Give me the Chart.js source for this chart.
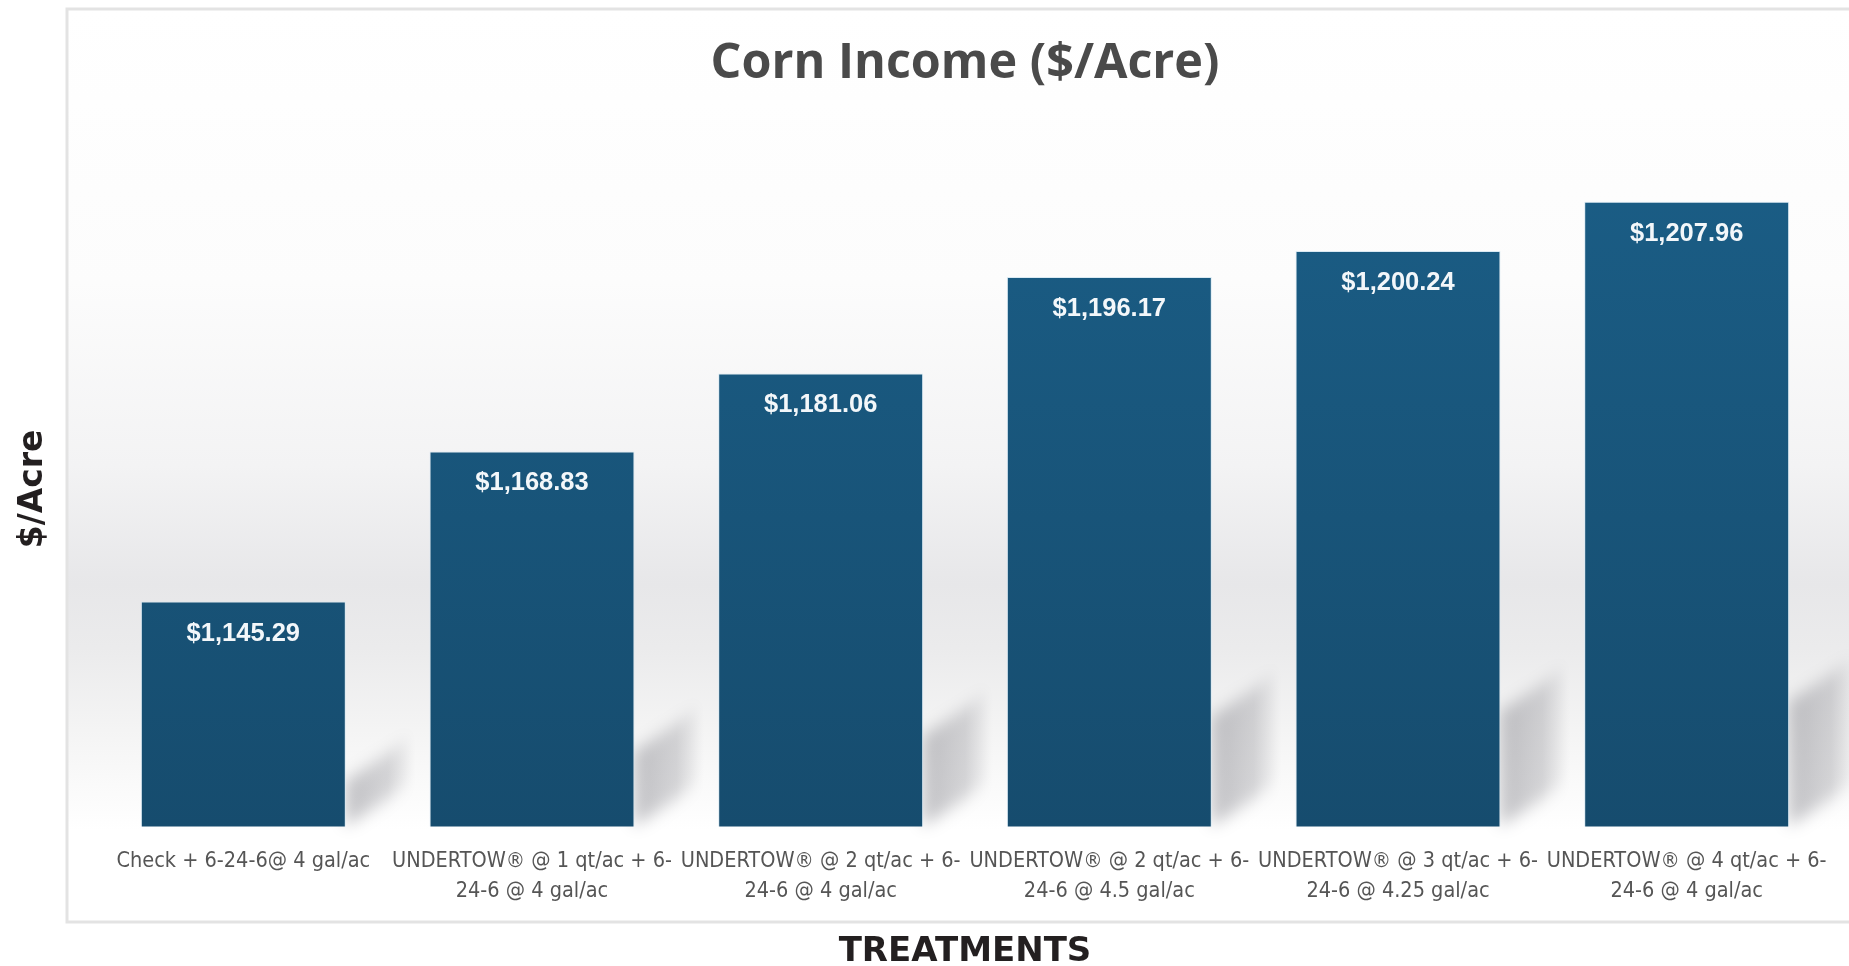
<!DOCTYPE html>
<html>
<head>
<meta charset="utf-8">
<script src="https://cdn.jsdelivr.net/npm/chart.js@4.4.1/dist/chart.umd.min.js"></script>
<style>
  html, body { margin: 0; padding: 0; background: #fff; }
  #wrap { position: relative; width: 1849px; height: 966px; }
</style>
</head>
<body>
<div id="wrap"><canvas id="chart"></canvas></div>
<script>
const treatments = [
  ['Check + 6-24-6@ 4 gal/ac'],
  ['UNDERTOW\u00AE @ 1 qt/ac + 6-', '24-6 @ 4 gal/ac'],
  ['UNDERTOW\u00AE @ 2 qt/ac + 6-', '24-6 @ 4 gal/ac'],
  ['UNDERTOW\u00AE @ 2 qt/ac + 6-', '24-6 @ 4.5 gal/ac'],
  ['UNDERTOW\u00AE @ 3 qt/ac + 6-', '24-6 @ 4.25 gal/ac'],
  ['UNDERTOW\u00AE @ 4 qt/ac + 6-', '24-6 @ 4 gal/ac'],
];
const incomes = [1145.29, 1168.83, 1181.06, 1196.17, 1200.24, 1207.96];

const chartTitle = 'Corn Income ($/Acre)';
const yAxisTitle = '$/Acre';
const xAxisTitle = 'TREATMENTS';
const Y_MIN = 1110;
const Y_MAX = 1225;

const HEAVY_FONT = "'DejaVu Sans', sans-serif";
const LABEL_FONT = "'DejaVu Sans Condensed', 'Liberation Sans Narrow', 'DejaVu Sans', sans-serif";

function formatDollars(value) {
  return '$' + value.toLocaleString('en-US', { minimumFractionDigits: 2, maximumFractionDigits: 2 });
}

function barGradient(chart) {
  const area = chart.chartArea;
  if (!area) return '#1a5a80';
  const g = chart.ctx.createLinearGradient(0, area.top, 0, area.bottom);
  g.addColorStop(0, '#1b5f88');
  g.addColorStop(1, '#164c6e');
  return g;
}

// light panel with the grey "floor" band behind the bars
const panelPlugin = {
  id: 'panel',
  beforeDraw(chart) {
    const { ctx, width } = chart;
    const top = 9;
    const bottom = 922;
    const left = 67;
    ctx.save();
    const g = ctx.createLinearGradient(0, top, 0, bottom);
    g.addColorStop(0, '#ffffff');
    g.addColorStop(0.3, '#fcfcfc');
    g.addColorStop(0.5, '#f3f3f4');
    g.addColorStop(0.63, '#e7e7e9');
    g.addColorStop(0.7, '#ebebec');
    g.addColorStop(0.79, '#f4f4f4');
    g.addColorStop(0.9, '#ffffff');
    g.addColorStop(1, '#ffffff');
    ctx.fillStyle = g;
    ctx.fillRect(left, top, width - left + 10, bottom - top);
    ctx.strokeStyle = '#e3e3e3';
    ctx.lineWidth = 3;
    ctx.strokeRect(left, top, width - left + 20, bottom - top);
    ctx.restore();
  },
};

// soft cast shadows to the right of each bar, blurred with the canvas shadow
// (the shape itself is drawn off-screen, only its shadow lands on the chart)
const shadowPlugin = {
  id: 'barShadows',
  beforeDatasetsDraw(chart) {
    const { ctx } = chart;
    const meta = chart.getDatasetMeta(0);
    const yScale = chart.scales.y;
    const base = yScale.getPixelForValue(Y_MIN);
    const off = 5000;
    ctx.save();
    ctx.shadowColor = 'rgba(120,120,128,0.45)';
    ctx.shadowBlur = 16;
    ctx.shadowOffsetX = off;
    ctx.shadowOffsetY = 0;
    meta.data.forEach((bar, i) => {
      const top = yScale.getPixelForValue(incomes[i]);
      const xr = bar.x + (bar.width || 0) / 2 - off;
      const h = base - top;
      const s = h * 0.2;
      const dx = 70;
      const dy = 46;
      const g = ctx.createLinearGradient(xr, 0, xr + dx, 0);
      g.addColorStop(0, 'rgba(0,0,0,1)');
      g.addColorStop(0.6, 'rgba(0,0,0,0.65)');
      g.addColorStop(1, 'rgba(0,0,0,0)');
      ctx.fillStyle = g;
      ctx.beginPath();
      ctx.moveTo(xr, base);
      ctx.lineTo(xr, base - s);
      ctx.lineTo(xr + dx, base - s - dy);
      ctx.lineTo(xr + dx, base - dy);
      ctx.closePath();
      ctx.fill();
    });
    ctx.restore();
  },
};

const valueLabelPlugin = {
  id: 'valueLabels',
  afterDatasetsDraw(chart) {
    const { ctx } = chart;
    const meta = chart.getDatasetMeta(0);
    ctx.save();
    ctx.fillStyle = '#f3f7fa';
    ctx.font = "bold 25.5px 'Liberation Sans', Arial, sans-serif";
    ctx.textAlign = 'center';
    ctx.textBaseline = 'middle';
    meta.data.forEach((bar, i) => {
      ctx.fillText(formatDollars(incomes[i]), bar.x, bar.y + 32);
    });
    ctx.restore();
  },
};

const yTitlePlugin = {
  id: 'yTitle',
  afterDraw(chart) {
    const { ctx, chartArea } = chart;
    ctx.save();
    ctx.translate(33, (chartArea.top + chartArea.bottom) / 2 + 29);
    ctx.rotate(-Math.PI / 2);
    ctx.fillStyle = '#231f20';
    ctx.font = `bold 33px ${HEAVY_FONT}`;
    ctx.textAlign = 'center';
    ctx.textBaseline = 'middle';
    ctx.fillText(yAxisTitle, 0, 0);
    ctx.restore();
  },
};

new Chart(document.getElementById('chart'), {
  type: 'bar',
  data: {
    labels: treatments,
    datasets: [{
      data: incomes,
      backgroundColor: (context) => barGradient(context.chart),
      borderColor: 'rgba(214, 232, 242, 0.9)',
      borderWidth: 1,
      barPercentage: 0.71,
      categoryPercentage: 1,
    }],
  },
  options: {
    responsive: true,
    maintainAspectRatio: false,
    animation: false,
    layout: {
      padding: { top: 10, right: 18, bottom: 0, left: 99 },
    },
    plugins: {
      legend: { display: false },
      tooltip: { enabled: false },
      title: {
        display: true,
        fullSize: false,
        text: chartTitle,
        color: '#4a4a4a',
        font: { family: "'Open Sans', sans-serif", size: 48.5, weight: 'bold', lineHeight: 1.2 },
        padding: { top: 25, bottom: 0 },
      },
    },
    scales: {
      x: {
        grid: { display: false, drawTicks: false },
        border: { display: false },
        ticks: {
          color: '#555555',
          autoSkip: false,
          maxRotation: 0,
          padding: 20,
          font: { family: LABEL_FONT, size: 21.5, lineHeight: 1.4 },
        },
        title: {
          display: true,
          text: xAxisTitle,
          color: '#231f20',
          font: { family: HEAVY_FONT, size: 34, weight: 'bold', lineHeight: 0.8 },
          padding: { top: 12, bottom: 0 },
        },
      },
      y: {
        display: false,
        min: Y_MIN,
        max: Y_MAX,
      },
    },
  },
  plugins: [panelPlugin, shadowPlugin, valueLabelPlugin, yTitlePlugin],
});
</script>
</body>
</html>
